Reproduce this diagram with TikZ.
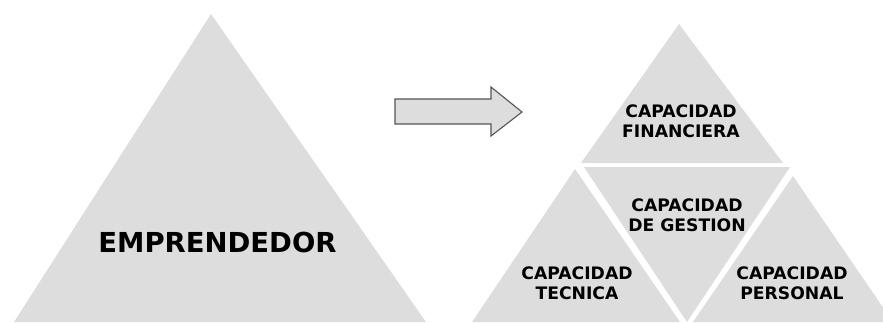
\documentclass[tikz,border=0pt]{standalone}
\usepackage{fontspec}
\setmainfont{DejaVu Sans}
\definecolor{trigray}{RGB}{221,221,221}
\definecolor{arrowline}{RGB}{85,85,85}

\begin{document}
\begin{tikzpicture}[x=1pt, y=-1pt, every node/.style={font=\bfseries\fontsize{17.2}{20}\selectfont, align=center, inner sep=0pt}]
\useasboundingbox (0,0) rectangle (883,322);
\clip (0,0) rectangle (883,322);
% Triangulo grande
\fill[trigray] (211,14) -- (14,322) -- (426,322) -- cycle;
% Flecha
\draw[arrowline, fill=trigray, line width=1.1pt] (395,99) -- (491,99) -- (491,87) -- (522,112) -- (491,136) -- (491,124) -- (395,124) -- cycle;
% Triangulos pequenos
\fill[trigray] (679,24) -- (581,163) -- (783,163) -- cycle;
\fill[trigray] (584,167) -- (790,167) -- (687,322) -- cycle;
\fill[trigray] (575,169) -- (472,322) -- (680,322) -- cycle;
\fill[trigray] (793,176) -- (693,322) -- (893,322) -- cycle;
% Textos
\node[font=\bfseries\fontsize{27.5}{30}\selectfont] (emprendedor) at (217.5,242.5) {EMPRENDEDOR};
\node (financiera) at (681,121) {CAPACIDAD\\FINANCIERA};
\node (gestion) at (687,215) {CAPACIDAD\\DE GESTION};
\node (tecnica) at (577,283) {CAPACIDAD\\TECNICA};
\node (personal) at (792,283) {CAPACIDAD\\PERSONAL};
\end{tikzpicture}
\end{document}
